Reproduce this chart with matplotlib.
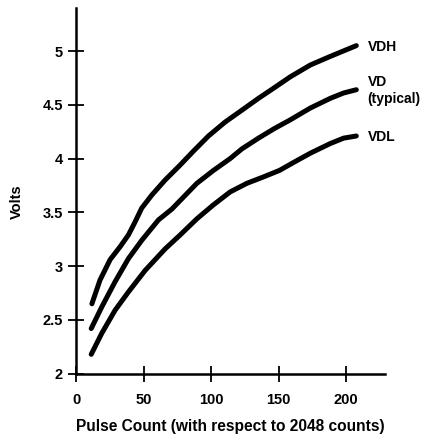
import matplotlib
matplotlib.use("Agg")
import matplotlib.pyplot as plt

# Data
vdh_x = [11.5, 17.5, 25, 32.4, 38.6, 43.5, 48.5, 55.9, 65.8, 77, 86.9, 98, 110.4,
         122.8, 135.1, 147, 158.7, 173.6, 188.4, 207.7]
vdh_y = [2.65, 2.87, 3.06, 3.18, 3.29, 3.41, 3.54, 3.66, 3.80, 3.94, 4.07, 4.21, 4.34,
         4.45, 4.56, 4.66, 4.76, 4.87, 4.95, 5.05]
vd_x = [11, 18.8, 28.7, 38.6, 48.5, 60.9, 70.8, 77, 89.4, 101.7, 114.1, 122.8, 135.1, 147,
        158.7, 173.6, 188.4, 198.3, 207.7]
vd_y = [2.42, 2.62, 2.855, 3.07, 3.24, 3.43, 3.53, 3.61, 3.77, 3.89, 4.00, 4.09, 4.19, 4.28,
        4.36, 4.47, 4.56, 4.61, 4.64]
vdl_x = [11, 18.8, 28.7, 38.6, 51, 65.8, 77, 89.4, 101.7, 114.1, 126.5, 138.9, 150.7, 162,
         173.6, 188.4, 198.3, 207.7]
vdl_y = [2.18, 2.375, 2.59, 2.76, 2.96, 3.16, 3.29, 3.44, 3.57, 3.69, 3.77, 3.83, 3.89, 3.97,
         4.05, 4.14, 4.19, 4.21]

labels = ["VDH", "VD\n(typical)", "VDL"]
label_y = [5.04, 4.63, 4.20]

x_ticks = [0, 50, 100, 150, 200]
y_ticks = [2, 2.5, 3, 3.5, 4, 4.5, 5]
y_tick_labels = ["2", "2.5", "3", "3.5", "4", "4.5", "5"]

plt.rcParams['font.family'] = ['Liberation Sans', 'DejaVu Sans']
plt.rcParams['font.weight'] = 'bold'

fig = plt.figure(figsize=(4.27, 4.40), dpi=100)
W, H = 427, 440
left, right, top, bottom = 76.4, 385, 8, 373.7
ax = fig.add_axes([left / W, (H - bottom) / H, (right - left) / W, (bottom - top) / H])

for xs, ys in [(vdh_x, vdh_y), (vd_x, vd_y), (vdl_x, vdl_y)]:
    ax.plot(xs, ys, color='black', lw=3.6, solid_capstyle='round', solid_joinstyle='round')

for lab, yy in zip(labels, label_y):
    ax.text(216, yy, lab, fontsize=10, fontweight='bold', va='center', ha='left',
            linespacing=1.25)

ax.set_xlim(0, 229)
ax.set_ylim(2, 5.40)
ax.set_xticks(x_ticks)
ax.set_yticks(y_ticks)
ax.set_yticklabels(y_tick_labels)
for s in ['top', 'right']:
    ax.spines[s].set_visible(False)
for s in ['left', 'bottom']:
    ax.spines[s].set_linewidth(1.8)
ax.tick_params(direction='inout', length=11.5, width=1.3, labelsize=10.5)
ax.tick_params(axis='y', pad=4)
ax.tick_params(axis='x', pad=8.5)
for t in ax.get_xticklabels() + ax.get_yticklabels():
    t.set_fontweight('bold')

fig.text(230 / W, 1 - 431 / H, "Pulse Count (with respect to 2048 counts)", fontsize=11.2,
         fontweight='bold', ha='center', va='baseline')
fig.text(16.5 / W, 1 - 201.5 / H, "Volts", rotation=90, fontsize=10.5, fontweight='bold',
         ha='center', va='center')

fig.savefig("out.png", dpi=100)
